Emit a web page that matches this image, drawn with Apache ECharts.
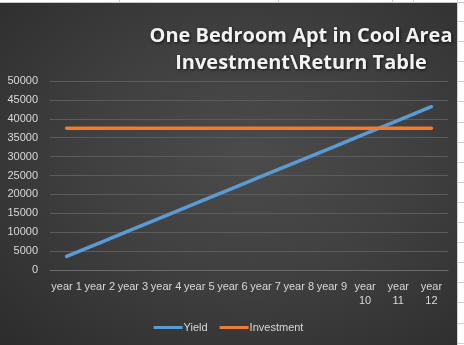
<!DOCTYPE html>
<html>
<head>
<meta charset="utf-8">
<script src="https://cdn.jsdelivr.net/npm/echarts@6/dist/echarts.min.js"></script>
<style>
html,body{margin:0;padding:0;background:#fff;width:464px;height:345px;overflow:hidden;position:relative;}
#chart{position:absolute;left:0;top:3px;width:457px;height:342px;
background:radial-gradient(ellipse at 55% 45%, #4b4b4b 0%, #404040 45%, #2c2c2c 100%);}
.vl{position:absolute;top:0;width:1px;height:3px;background:#c8c8c8;}
.hl{position:absolute;left:458px;width:6px;height:1px;background:#d0d0d0;}
#topline{position:absolute;left:0;top:2px;width:464px;height:1px;background:#c8c8c8;}
#rightline{position:absolute;left:457px;top:0;width:1px;height:345px;background:#d0d0d0;}
</style>
</head>
<body>
<div id="topline"></div>
<div id="rightline"></div>
<div class="vl" style="left:119px"></div>
<div class="vl" style="left:278px"></div>
<div class="vl" style="left:392px"></div>
<div class="vl" style="left:413px"></div>
<div id="chart"></div>
<script>
var categories = ['year 1','year 2','year 3','year 4','year 5','year 6','year 7','year 8','year 9','year 10','year 11','year 12'];
var yieldValues = [3600, 7200, 10800, 14400, 18000, 21600, 25200, 28800, 32400, 36000, 39600, 43200];
var investmentValues = [37500, 37500, 37500, 37500, 37500, 37500, 37500, 37500, 37500, 37500, 37500, 37500];
var yTicks = [0, 5000, 10000, 15000, 20000, 25000, 30000, 35000, 40000, 45000, 50000];

// spreadsheet row marks on right edge
for (var i = 0; i < 17; i++) {
  var d = document.createElement('div');
  d.className = 'hl';
  d.style.top = (21 + i * 20.1) + 'px';
  document.body.appendChild(d);
}

var chart = echarts.init(document.getElementById('chart'), null, {renderer: 'canvas'});
chart.setOption({
  backgroundColor: 'transparent',
  animation: false,
  title: {
    text: 'One Bedroom Apt in Cool Area\nInvestment\\Return Table',
    left: 296,
    top: 15,
    textAlign: 'center',
    textStyle: {
      color: '#f2f2f2',
      fontFamily: 'Open Sans',
      fontWeight: 'bold',
      fontSize: 20,
      lineHeight: 27,
      textShadowColor: 'rgba(0,0,0,0.7)',
      textShadowBlur: 3,
      textShadowOffsetX: 1,
      textShadowOffsetY: 1
    }
  },
  grid: {left: 50, right: 9, top: 78, bottom: 75, containLabel: false},
  legend: {
    bottom: 7,
    left: 'center',
    icon: 'rect',
    itemWidth: 29,
    itemHeight: 3,
    itemGap: 12,
    textStyle: {color: '#d9d9d9', fontSize: 11, fontFamily: 'Liberation Sans', padding: [0, 0, 0, -4]},
    data: ['Yield', 'Investment']
  },
  xAxis: {
    type: 'category',
    data: categories,
    boundaryGap: true,
    axisLine: {show: true, lineStyle: {color: '#6a6a6a', width: 1}},
    axisTick: {show: false},
    axisLabel: {
      color: '#d9d9d9', fontSize: 11, fontFamily: 'Liberation Sans', margin: 10, lineHeight: 14,
      interval: 0,
      formatter: function (v) { return v.length > 6 ? v.replace(' ', '\n') : v; }
    }
  },
  yAxis: {
    type: 'value',
    min: yTicks[0],
    max: yTicks[yTicks.length - 1],
    interval: 5000,
    axisLine: {show: false},
    axisTick: {show: false},
    axisLabel: {
      color: '#d9d9d9', fontSize: 11, fontFamily: 'Liberation Sans', margin: 12,
      formatter: function (v) { return String(v); }
    },
    splitLine: {lineStyle: {color: '#5c5c5c', width: 1}}
  },
  series: [
    {
      name: 'Yield', type: 'line', data: yieldValues, showSymbol: false, symbol: 'none',
      lineStyle: {color: '#5B9BD5', width: 3.5, cap: 'round'}, itemStyle: {color: '#5B9BD5'}
    },
    {
      name: 'Investment', type: 'line', data: investmentValues, showSymbol: false, symbol: 'none',
      lineStyle: {color: '#ED7D31', width: 3.5, cap: 'round'}, itemStyle: {color: '#ED7D31'}
    }
  ]
});
</script>
</body>
</html>
